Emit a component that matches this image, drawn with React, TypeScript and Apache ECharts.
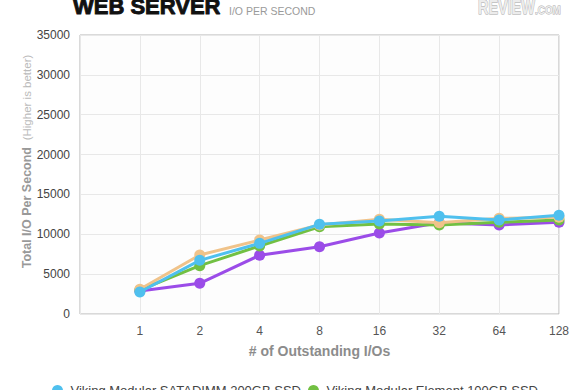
import React, { useEffect, useRef } from "react";
import * as echarts from "echarts";

const xLabels = ["1", "2", "4", "8", "16", "32", "64", "128"];
const yTicks = [0, 5000, 10000, 15000, 20000, 25000, 30000, 35000];
const satadimm = [2760, 6730, 8860, 11250, 11670, 12250, 11790, 12380];
const element = [3010, 6060, 8530, 10950, 11290, 11170, 11500, 11790];
const tanDrive = [3100, 7400, 9280, 11170, 11880, 11460, 12000, 12130];
const purpleDrive = [2880, 3850, 7360, 8440, 10160, 11460, 11170, 11500];

const seriesNames = [
  "Viking Modular SATADIMM 200GB SSD",
  "Viking Modular Element 100GB SSD",
];

export default function App() {
  const ref = useRef<HTMLDivElement>(null);
  useEffect(() => {
    if (!ref.current) return;
    const chart = echarts.init(ref.current, undefined, { renderer: "svg" });
    const mk = (name: string, values: number[], color: string, z: number) => ({
      name,
      type: "line",
      data: values.map((v, i) => [i + 1, v]),
      symbol: "circle",
      symbolSize: 11,
      z,
      lineStyle: { width: 3, color },
      itemStyle: { color },
    });
    chart.setOption({
      animation: false,
      backgroundColor: "#ffffff",
      grid: {
        left: 80,
        right: 21,
        top: 35,
        bottom: 76,
        show: true,
        borderColor: "#b5b5b5",
        borderWidth: 1,
        backgroundColor: "#fdfdfd",
      },
      xAxis: {
        type: "value",
        min: 0,
        max: 8,
        interval: 1,
        axisLine: { show: false },
        axisTick: { show: false },
        splitLine: { show: true, lineStyle: { color: "#e8e8e8", width: 1 } },
        axisLabel: {
          margin: 11,
          fontSize: 12,
          color: "#555",
          fontFamily: "Liberation Sans, Arial, sans-serif",
          formatter: (v: number) => (v >= 1 && v <= xLabels.length ? xLabels[v - 1] : ""),
        },
        name: "# of Outstanding I/Os",
        nameLocation: "middle",
        nameGap: 30,
        nameTextStyle: {
          fontSize: 14,
          fontWeight: "bold",
          color: "#8c8c8c",
          fontFamily: "Liberation Sans, Arial, sans-serif",
        },
      },
      yAxis: {
        type: "value",
        min: yTicks[0],
        max: yTicks[yTicks.length - 1],
        interval: 5000,
        axisLine: { show: false },
        axisTick: { show: false },
        splitLine: { show: true, lineStyle: { color: "#e8e8e8", width: 1 } },
        axisLabel: {
          margin: 10,
          fontSize: 12,
          color: "#444",
          fontFamily: "Liberation Sans, Arial, sans-serif",
          formatter: (v: number) => String(v),
        },
      },
      legend: {
        data: seriesNames,
        left: 52,
        top: 384,
        icon: "circle",
        itemWidth: 16,
        itemHeight: 11,
        itemGap: 7,
        padding: 0,
        textStyle: {
          fontSize: 13,
          color: "#444",
          fontFamily: "Liberation Sans, Arial, sans-serif",
        },
      },
      graphic: [
        {
          type: "text",
          x: 73,
          y: 6,
          style: {
            text: "WEB SERVER",
            fontSize: 22,
            fontWeight: 900,
            fill: "#111",
            stroke: "#111",
            lineWidth: 0.9,
            fontFamily: "Liberation Sans, Arial, sans-serif",
            verticalAlign: "middle",
          },
        },
        {
          type: "text",
          x: 229,
          y: 10.5,
          style: {
            text: "I/O PER SECOND",
            fontSize: 10.5,
            fill: "#9a9a9a",
            fontFamily: "Liberation Sans, Arial, sans-serif",
            verticalAlign: "middle",
          },
        },
        {
          type: "text",
          x: 478,
          y: 7,
          scaleX: 0.72,
          style: {
            text: "REVIEW",
            fontSize: 20,
            fontWeight: "bold",
            fill: "#ececec",
            stroke: "#a8a8a8",
            lineWidth: 1,
            fontFamily: "Liberation Sans, Arial, sans-serif",
            verticalAlign: "middle",
          },
        },
        {
          type: "text",
          x: 535,
          y: 10,
          scaleX: 0.9,
          style: {
            text: ".COM",
            fontSize: 11,
            fontWeight: "bold",
            fill: "#ececec",
            stroke: "#a8a8a8",
            lineWidth: 0.8,
            fontFamily: "Liberation Sans, Arial, sans-serif",
            verticalAlign: "middle",
          },
        },
        {
          type: "text",
          x: 27,
          y: 161.5,
          rotation: Math.PI / 2,
          style: {
            text: "{a|Total I/O Per Second}  {b|(Higher is better)}",
            align: "center",
            verticalAlign: "middle",
            rich: {
              a: {
                fontSize: 12.5,
                fontWeight: "bold",
                fill: "#999",
                color: "#999",
                fontFamily: "Liberation Sans, Arial, sans-serif",
              },
              b: {
                fontSize: 11.5,
                fill: "#bbb",
                color: "#bbb",
                fontFamily: "Liberation Sans, Arial, sans-serif",
              },
            },
          },
        },
      ],
      series: [
        mk("Drive C", purpleDrive, "#9b4ce8", 2),
        mk(seriesNames[1], element, "#72c043", 3),
        mk("Drive D", tanDrive, "#f0c38a", 4),
        mk(seriesNames[0], satadimm, "#4fc0ee", 5),
      ],
    });
    return () => chart.dispose();
  }, []);
  return (
    <div
      ref={ref}
      style={{ position: "fixed", left: 0, top: 0, width: 580, height: 390 }}
    />
  );
}
